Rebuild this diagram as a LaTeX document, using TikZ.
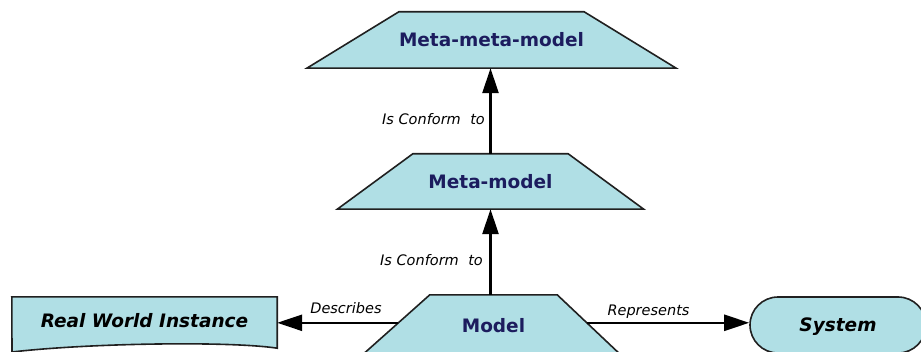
\documentclass[tikz,border=0pt]{standalone}
\usepackage{fontspec}
\setmainfont{DejaVu Sans}
\usetikzlibrary{arrows.meta,backgrounds,calc}

\definecolor{shapefill}{HTML}{B0DFE5}
\definecolor{titleink}{HTML}{1C1C5E}
\definecolor{outline}{HTML}{202020}

\tikzset{
  shapebox/.style={draw=none, inner sep=0pt, text height=13.5pt, text depth=0pt,
    font=\fontsize{18.5}{20}\selectfont\bfseries},
  metatitle/.style={shapebox, text=titleink},
  thingtitle/.style={shapebox, text=black, font=\fontsize{18.5}{20}\selectfont\bfseries\itshape},
  outlinepath/.style={draw=outline, fill=shapefill, line width=1.6pt, line join=miter},
  conn/.style={draw=black, line width=2.6pt, -{Triangle[length=25pt,width=16pt]}},
  connlabel/.style={anchor=base, inner sep=0pt, text=black,
    font=\fontsize{14.5}{16}\selectfont\itshape},
}

\begin{document}
\begin{tikzpicture}[x=1pt,y=1pt]
\useasboundingbox (0,0) rectangle (921,351);

% trapezoid levels (node box = top side; the sides flare outward below)
\node[metatitle, minimum width=183pt, minimum height=56pt] (mmm) at (491.5,311) {Meta-meta-model};
\node[metatitle, minimum width=155pt, minimum height=55pt] (mm) at (490.5,169.5) {Meta-model};
\node[metatitle, minimum width=127pt, minimum height=62pt] (model) at (493.5,25) {Model};

% document shape and terminal shape
\node[thingtitle, minimum width=265pt, minimum height=48pt] (rwi) at (144.5,30) {Real World Instance};
\node[thingtitle, draw=outline, fill=shapefill, line width=1.6pt, rounded corners=28pt,
      minimum width=176pt, minimum height=56pt] (sys) at (838,26) {System};

\begin{pgfonlayer}{background}
  \path[outlinepath] (mmm.north west) -- (mmm.north east)
    -- ([xshift=92pt]mmm.south east) -- ([xshift=-92pt]mmm.south west) -- cycle;
  \path[outlinepath] (mm.north west) -- (mm.north east)
    -- ([xshift=75.5pt]mm.south east) -- ([xshift=-75.5pt]mm.south west) -- cycle;
  \path[outlinepath] (model.north west) -- (model.north east)
    -- ([xshift=66pt]model.south east) -- ([xshift=-70pt]model.south west) -- cycle;
  \path[outlinepath] (rwi.north west) -- (rwi.north east) -- ([yshift=-3pt]rwi.south east)
    .. controls (230,10) and (90,8) .. (12,-1) -- cycle;
\end{pgfonlayer}

% attachment points on the slanted sides of the model
\coordinate (mdl-l) at ([shift={(-31.6pt,-28pt)}]model.north west);
\coordinate (mdl-r) at ([shift={(30pt,-28pt)}]model.north east);

% connectors
\draw[conn] (mm.north) -- (mm.north |- mmm.south);
\draw[conn] (mm.south |- model.north) -- (mm.south);
\draw[conn] (mdl-l) -- (mdl-l -| rwi.east);
\draw[conn] (mdl-r) -- (mdl-r -| sys.west);

% connector labels
\node[connlabel] (conf-top) at (433.5,226) {Is Conform\,\, to};
\node[connlabel] (conf-low) at (431.5,85) {Is Conform\,\, to};
\node[connlabel] (desc) at (346,38) {Describes};
\node[connlabel] (repr) at (648.5,35.3) {Represents};
\end{tikzpicture}
\end{document}
